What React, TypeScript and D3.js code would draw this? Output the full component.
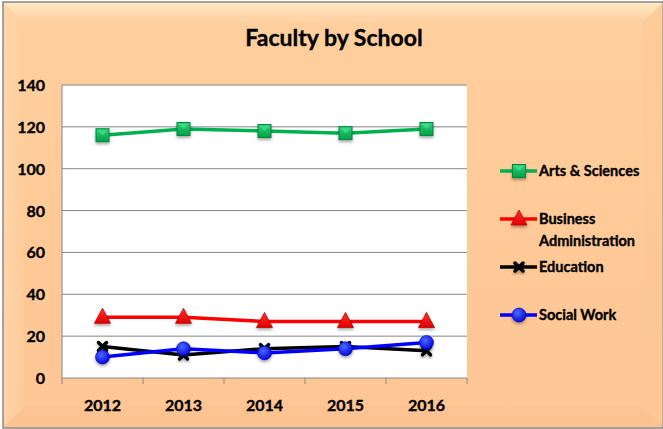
import * as d3 from "d3";

const width = 663;
const height = 429;
const plot = { left: 62, right: 467, top: 85, bottom: 378 };

const years = ["2012", "2013", "2014", "2015", "2016"];
const yTicks = [0, 20, 40, 60, 80, 100, 120, 140];

const artsSciences = [116, 119, 118, 117, 119];
const businessAdmin = [29, 29, 27, 27, 27];
const education = [15, 11, 14, 15, 13];
const socialWork = [10, 14, 12, 14, 17];

const series = [
  { name: ["Arts & Sciences"], values: artsSciences, color: "#00B050", marker: "square" },
  { name: ["Business", "Administration"], values: businessAdmin, color: "#FF0000", marker: "triangle" },
  { name: ["Education"], values: education, color: "#000000", marker: "x" },
  { name: ["Social Work"], values: socialWork, color: "#0000FF", marker: "circle" },
];

const legendY = [171, 219, 267, 315];
const font = "Lato, 'Open Sans', sans-serif";

const Marker = ({ type, x, y }: { type: string; x: number; y: number }) => {
  if (type === "square") {
    return (
      <g filter="url(#shadow)">
        <rect x={x - 6.5} y={y - 6.5} width={13} height={13} fill="url(#greenGrad)" stroke="#00863C" strokeWidth={1} />
        <path d={`M${x - 5},${y - 5}L${x + 5},${y - 5}L${x},${y}Z`} fill="#3FE08A" opacity={0.8} />
      </g>
    );
  }
  if (type === "triangle") {
    return (
      <path
        filter="url(#shadow)"
        d={`M${x},${y - 9}L${x + 8},${y + 6}L${x - 8},${y + 6}Z`}
        fill="url(#redGrad)"
        stroke="#C00000"
        strokeWidth={0.8}
      />
    );
  }
  if (type === "x") {
    return (
      <g filter="url(#shadow)" stroke="#000" strokeWidth={3.5} strokeLinecap="round">
        <line x1={x - 4} y1={y - 4} x2={x + 4} y2={y + 4} />
        <line x1={x - 4} y1={y + 4} x2={x + 4} y2={y - 4} />
      </g>
    );
  }
  return <circle filter="url(#shadow)" cx={x} cy={y} r={7} fill="url(#blueGrad)" stroke="#0000C0" strokeWidth={0.6} />;
};

const App = () => {
  const x = d3.scaleBand().domain(years).range([plot.left, plot.right]);
  const y = d3.scaleLinear().domain([0, 140]).range([plot.bottom, plot.top]);
  const cx = (d: string) => (x(d) as number) + x.bandwidth() / 2;
  const line = d3
    .line<number>()
    .x((_, i) => cx(years[i]))
    .y((d) => y(d));

  const textProps = { fontWeight: "bold", fill: "#000", stroke: "#000", strokeWidth: 0.35 };

  return (
    <svg width={width} height={height} style={{ position: "absolute", left: 0, top: 0 }} fontFamily={font}>
      <defs>
        <linearGradient id="bg" x1="0" y1="0" x2="0" y2="1">
          <stop offset="0" stopColor="#FFCF9E" />
          <stop offset="0.5" stopColor="#FFCA98" />
          <stop offset="1" stopColor="#FDC594" />
        </linearGradient>
        <linearGradient id="topBevel" x1="0" y1="0" x2="0" y2="1">
          <stop offset="0" stopColor="#FFF0D0" />
          <stop offset="1" stopColor="#FFCF9E" />
        </linearGradient>
        <linearGradient id="leftBevel" x1="0" y1="0" x2="1" y2="0">
          <stop offset="0" stopColor="#FFDDB4" />
          <stop offset="1" stopColor="#FFCC9A" />
        </linearGradient>
        <linearGradient id="greenGrad" x1="0" y1="0" x2="0" y2="1">
          <stop offset="0" stopColor="#33D07A" />
          <stop offset="1" stopColor="#00A046" />
        </linearGradient>
        <linearGradient id="redGrad" x1="0" y1="0" x2="0" y2="1">
          <stop offset="0" stopColor="#FF3030" />
          <stop offset="1" stopColor="#E00000" />
        </linearGradient>
        <radialGradient id="blueGrad" cx="0.4" cy="0.35" r="0.7">
          <stop offset="0" stopColor="#4A6BFF" />
          <stop offset="1" stopColor="#0000D8" />
        </radialGradient>
        <filter id="shadow" x="-50%" y="-50%" width="200%" height="200%">
          <feDropShadow dx="0" dy="2" stdDeviation="1.5" floodColor="#000" floodOpacity="0.35" />
        </filter>
      </defs>

      <rect x={3} y={2} width={width - 3} height={height - 3} fill="url(#bg)" stroke="#8A8A8A" strokeWidth={1.5} />
      <path d={`M4,3L${width},3L${width - 20},22L24,22Z`} fill="url(#topBevel)" opacity={0.8} />
      <path d={`M4,3L24,22L24,${height - 22}L4,${height - 3}Z`} fill="url(#leftBevel)" opacity={0.6} />
      <path d={`M4,${height - 3}L24,${height - 22}L${width - 20},${height - 22}L${width},${height - 3}Z`} fill="#F8BF8C" opacity={0.35} />
      <path d={`M${width},3L${width - 20},22L${width - 20},${height - 22}L${width},${height - 3}Z`} fill="#FBC796" opacity={0.4} />

      <text x={334} y={46} textAnchor="middle" fontSize={23} {...textProps}>
        Faculty by School
      </text>

      <rect x={plot.left} y={plot.top} width={plot.right - plot.left} height={plot.bottom - plot.top} fill="#fff" />
      {yTicks.map((t) => (
        <line key={t} x1={plot.left} x2={plot.right} y1={y(t)} y2={y(t)} stroke="#868686" strokeWidth={1} />
      ))}
      <line x1={plot.left} x2={plot.left} y1={plot.top} y2={plot.bottom + 6} stroke="#868686" />
      {years.map((yr) => (
        <line key={yr} x1={(x(yr) as number) + x.bandwidth()} x2={(x(yr) as number) + x.bandwidth()} y1={plot.bottom} y2={plot.bottom + 6} stroke="#868686" />
      ))}

      {yTicks.map((t) => (
        <text key={t} x={45} y={y(t) + 6} textAnchor="end" fontSize={16} {...textProps}>
          {t}
        </text>
      ))}
      {years.map((yr) => (
        <text key={yr} x={cx(yr)} y={411} textAnchor="middle" fontSize={16} {...textProps}>
          {yr}
        </text>
      ))}

      {series.map((s) => (
        <path key={s.name[0]} d={line(s.values) as string} fill="none" stroke={s.color} strokeWidth={3.5} strokeLinejoin="round" />
      ))}
      {series.map((s) =>
        s.values.map((v, i) => <Marker key={s.name[0] + i} type={s.marker} x={cx(years[i])} y={y(v)} />)
      )}

      {series.map((s, i) => (
        <g key={s.name[0]}>
          <line x1={500} x2={537} y1={legendY[i]} y2={legendY[i]} stroke={s.color} strokeWidth={3.5} />
          <Marker type={s.marker} x={519} y={legendY[i]} />
          {s.name.map((n, j) => (
            <text key={n} x={539} y={legendY[i] + 5 + j * 22} fontSize={14.5} {...textProps}>
              {n}
            </text>
          ))}
        </g>
      ))}
    </svg>
  );
};

export default App;
